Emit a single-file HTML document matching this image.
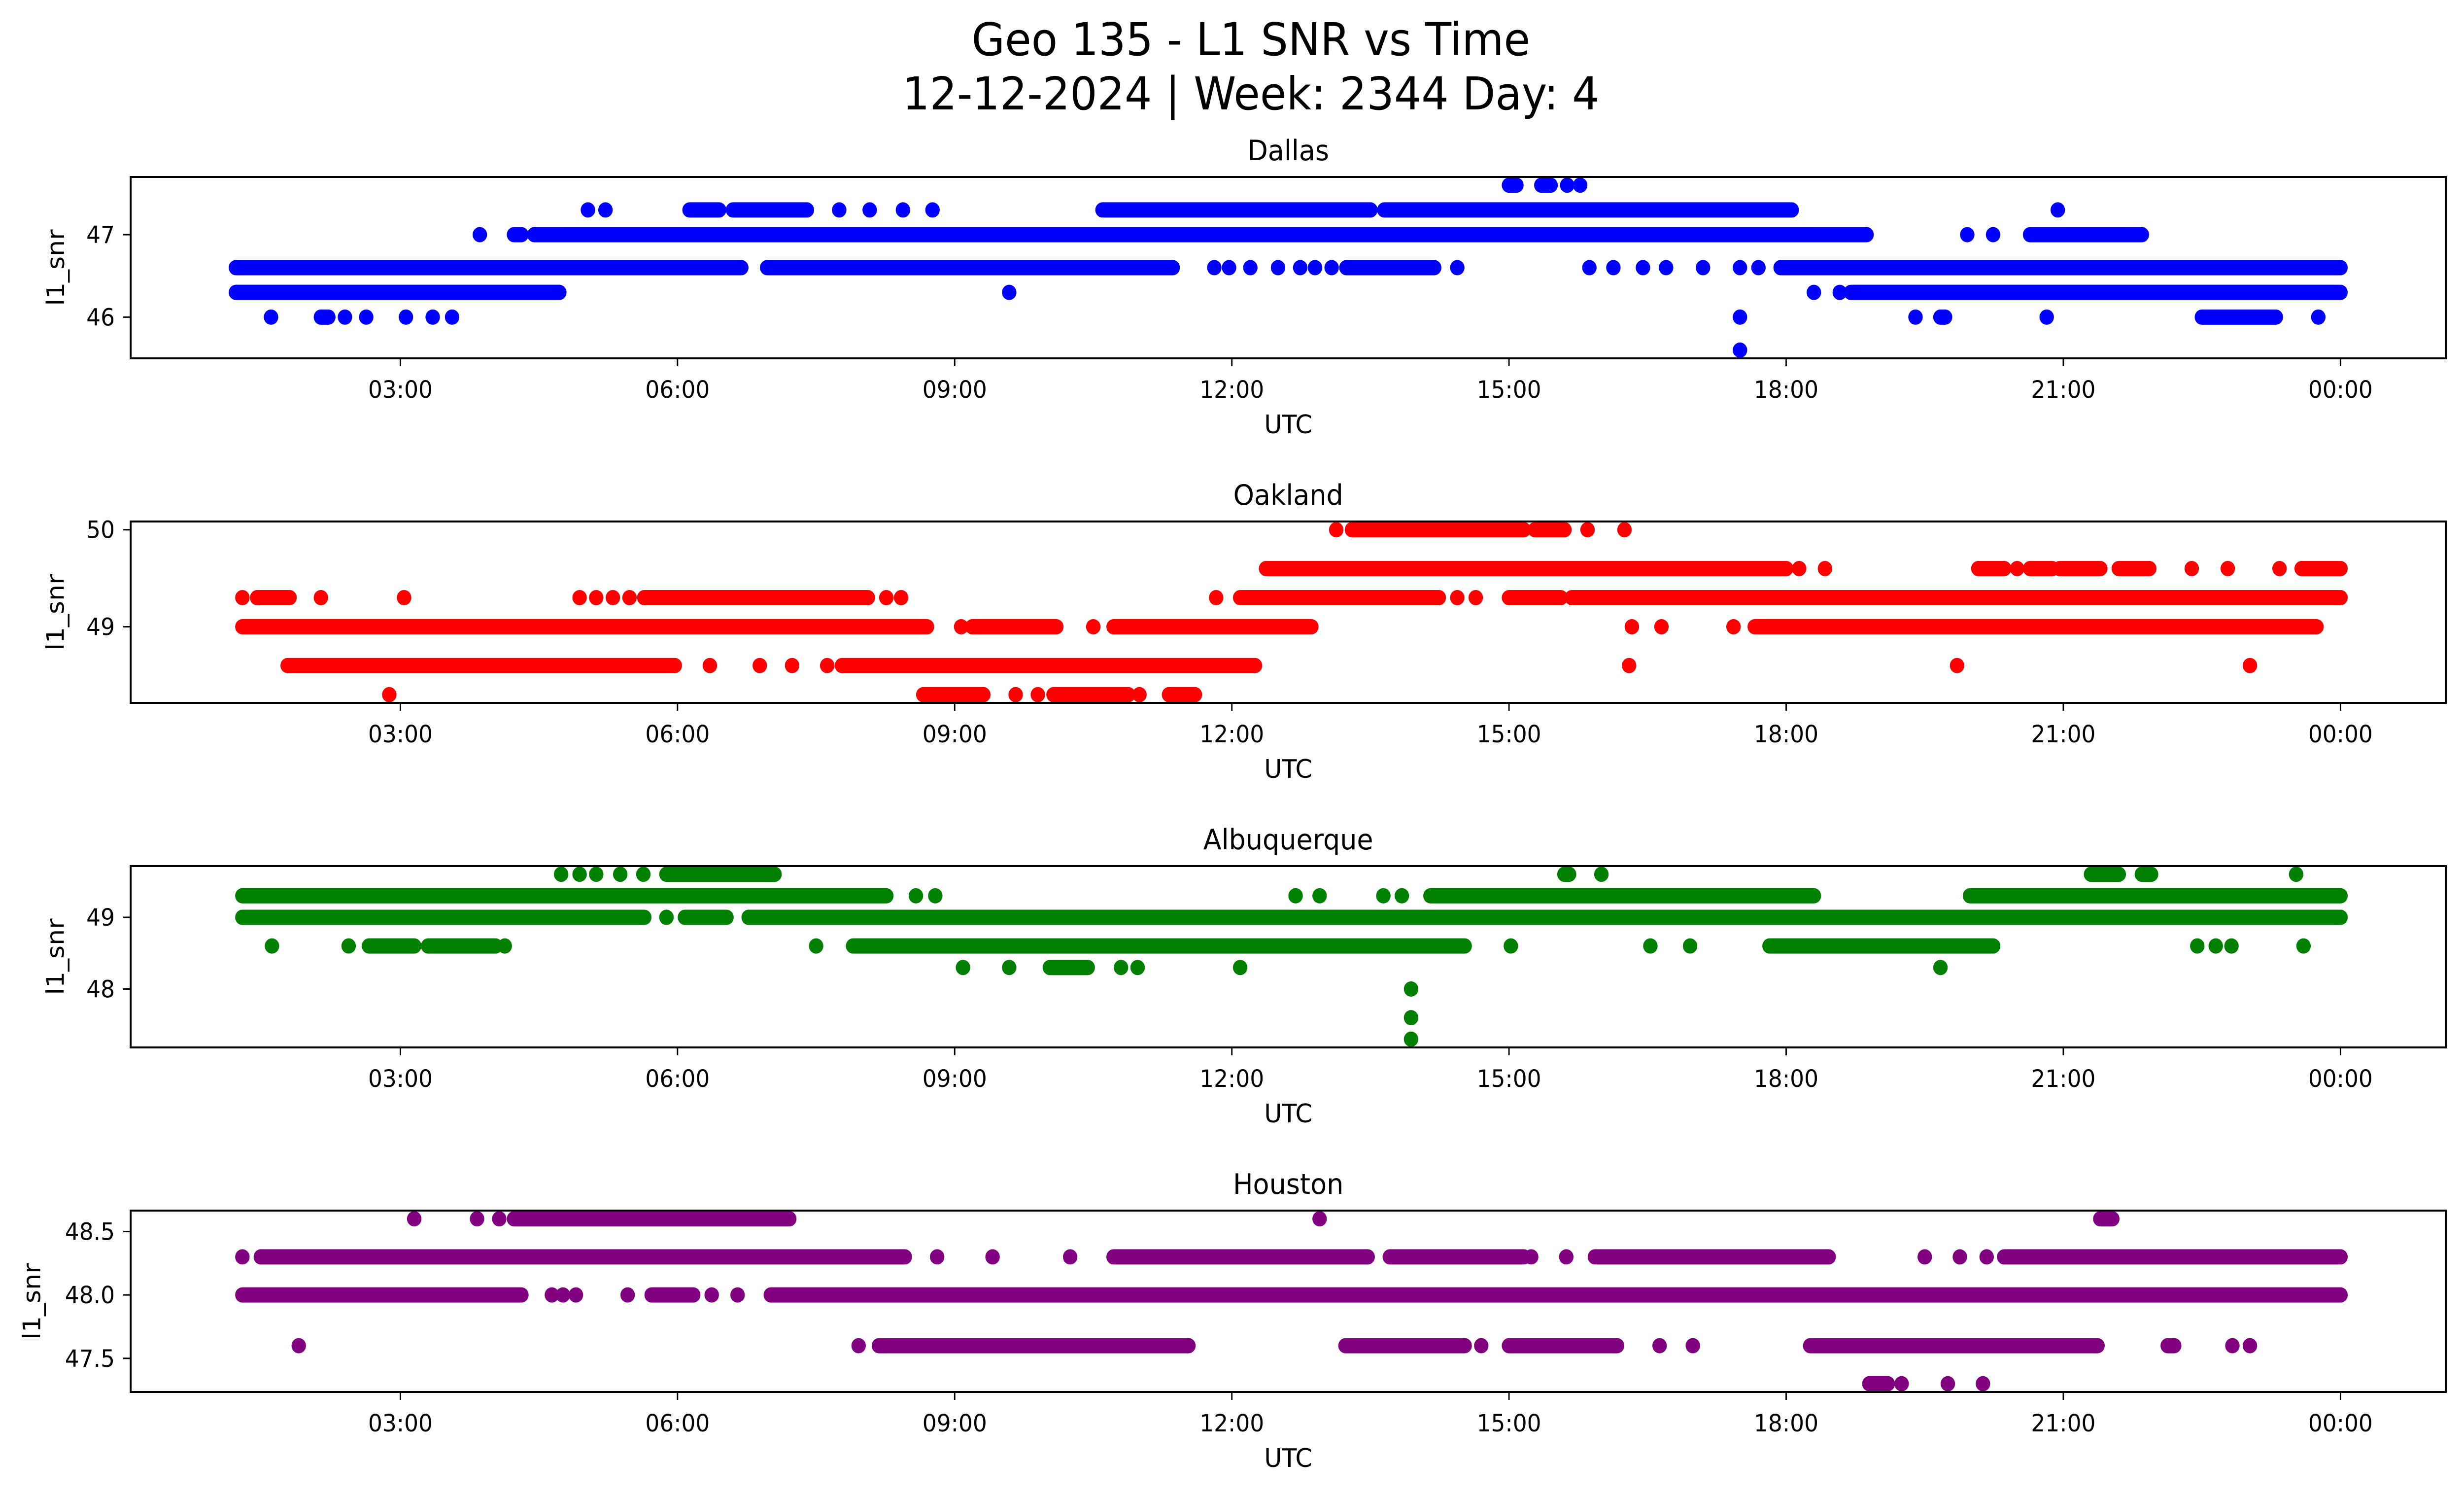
<!DOCTYPE html>
<html><head><meta charset="utf-8"><title>Geo 135 - L1 SNR vs Time</title>
<style>
html,body{margin:0;padding:0;background:#fff;width:100%;height:100%;overflow:hidden;}
svg{display:block;position:absolute;left:0;top:0;width:100vw;height:100vh;font-family:"DejaVu Sans","Liberation Sans",sans-serif;}
</style></head>
<body>
<svg id="fig" viewBox="0 0 5279 3033" preserveAspectRatio="none" xmlns="http://www.w3.org/2000/svg">
<rect x="0" y="0" width="5279" height="3033" fill="#fff"/>
<text x="2680" y="112" font-size="92" text-anchor="middle">Geo 135 - L1 SNR vs Time</text>
<text x="2680" y="222" font-size="92" text-anchor="middle">12-12-2024 | Week: 2344 Day: 4</text>
</svg>
<script>
// ---- shared x-axis data ----
const xTickHours = [3, 6, 9, 12, 15, 18, 21, 24];
const xTickLabels = ["03:00", "06:00", "09:00", "12:00", "15:00", "18:00", "21:00", "00:00"];

// ---- Dallas ----
const dallasLevels = [47.6, 47.3, 47.0, 46.6, 46.3, 46.0, 45.6];
const dallasRuns = [
  [[15.0,15.08],[15.35,15.45],[15.63,15.63],[15.77,15.77]],
  [[5.03,5.03],[5.22,5.22],[6.13,6.45],[6.6,7.4],[7.75,7.75],[8.08,8.08],[8.44,8.44],[8.76,8.76],[10.6,13.5],[13.65,18.06],[20.94,20.94]],
  [[3.86,3.86],[4.23,4.31],[4.45,18.87],[19.96,19.96],[20.24,20.24],[20.64,21.85]],
  [[1.22,6.69],[6.97,11.36],[11.81,11.81],[11.97,11.97],[12.2,12.2],[12.5,12.5],[12.74,12.74],[12.9,12.9],[13.08,13.08],[13.24,14.19],[14.44,14.44],[15.87,15.87],[16.13,16.13],[16.45,16.45],[16.7,16.7],[17.1,17.1],[17.5,17.5],[17.7,17.7],[17.94,24.0]],
  [[1.22,4.72],[9.59,9.59],[18.3,18.3],[18.58,18.58],[18.7,24.0]],
  [[1.6,1.6],[2.14,2.22],[2.4,2.4],[2.63,2.63],[3.06,3.06],[3.35,3.35],[3.56,3.56],[17.5,17.5],[19.4,19.4],[19.67,19.72],[20.82,20.82],[22.5,23.3],[23.76,23.76]],
  [[17.5,17.5]]
];
const dallasYTicks = [46, 47];
const dallasYTickLabels = ["46", "47"];

// ---- Oakland ----
const oaklandLevels = [50.0, 49.6, 49.3, 49.0, 48.6, 48.3];
const oaklandRuns = [
  [[13.13,13.13],[13.3,15.16],[15.28,15.6],[15.85,15.85],[16.25,16.25]],
  [[12.37,18.0],[18.14,18.14],[18.42,18.42],[20.08,20.36],[20.5,20.5],[20.64,20.88],[20.96,21.4],[21.6,21.93],[22.39,22.39],[22.78,22.78],[23.34,23.34],[23.58,24.0]],
  [[1.29,1.29],[1.45,1.8],[2.14,2.14],[3.04,3.04],[4.94,4.94],[5.12,5.12],[5.3,5.3],[5.48,5.48],[5.64,8.06],[8.26,8.26],[8.42,8.42],[11.83,11.83],[12.09,14.24],[14.44,14.44],[14.64,14.64],[15.0,15.56],[15.68,24.0]],
  [[1.29,8.7],[9.07,9.07],[9.19,10.1],[10.5,10.5],[10.72,12.86],[16.33,16.33],[16.65,16.65],[17.43,17.43],[17.66,23.74]],
  [[1.78,5.97],[6.35,6.35],[6.89,6.89],[7.24,7.24],[7.62,7.62],[7.78,12.25],[16.3,16.3],[19.85,19.85],[23.02,23.02]],
  [[2.88,2.88],[8.66,9.31],[9.66,9.66],[9.9,9.9],[10.07,10.88],[11.0,11.0],[11.32,11.6]]
];
const oaklandYTicks = [49, 50];
const oaklandYTickLabels = ["49", "50"];

// ---- Albuquerque ----
const albuquerqueLevels = [49.6, 49.3, 49.0, 48.6, 48.3, 48.0, 47.6, 47.3];
const albuquerqueRuns = [
  [[4.74,4.74],[4.94,4.94],[5.12,5.12],[5.38,5.38],[5.63,5.63],[5.88,7.05],[15.6,15.65],[16.0,16.0],[21.3,21.6],[21.85,21.95],[23.52,23.52]],
  [[1.29,8.26],[8.58,8.58],[8.79,8.79],[12.69,12.69],[12.95,12.95],[13.64,13.64],[13.84,13.84],[14.15,18.3],[19.99,24.0]],
  [[1.29,5.64],[5.88,5.88],[6.08,6.53],[6.77,24.0]],
  [[1.61,1.61],[2.44,2.44],[2.66,3.15],[3.3,4.03],[4.13,4.13],[7.5,7.5],[7.9,14.52],[15.02,15.02],[16.53,16.53],[16.96,16.96],[17.82,20.24],[22.45,22.45],[22.65,22.65],[22.82,22.82],[23.6,23.6]],
  [[9.09,9.09],[9.59,9.59],[10.03,10.44],[10.8,10.8],[10.98,10.98],[12.09,12.09],[19.67,19.67]],
  [[13.94,13.94]],
  [[13.94,13.94]],
  [[13.94,13.94]]
];
const albuquerqueYTicks = [48, 49];
const albuquerqueYTickLabels = ["48", "49"];

// ---- Houston ----
const houstonLevels = [48.6, 48.3, 48.0, 47.6, 47.3];
const houstonRuns = [
  [[3.15,3.15],[3.83,3.83],[4.07,4.07],[4.23,7.21],[12.95,12.95],[21.4,21.53]],
  [[1.29,1.29],[1.49,8.46],[8.81,8.81],[9.41,9.41],[10.25,10.25],[10.72,13.47],[13.71,15.16],[15.24,15.24],[15.62,15.62],[15.93,18.46],[19.5,19.5],[19.88,19.88],[20.17,20.17],[20.36,24.0]],
  [[1.29,4.31],[4.64,4.64],[4.76,4.76],[4.9,4.9],[5.46,5.46],[5.72,6.17],[6.37,6.37],[6.65,6.65],[7.01,24.0]],
  [[1.9,1.9],[7.96,7.96],[8.18,11.53],[13.23,14.52],[14.7,14.7],[15.0,16.17],[16.63,16.63],[16.99,16.99],[18.26,21.37],[22.13,22.2],[22.83,22.83],[23.02,23.02]],
  [[18.9,19.1],[19.25,19.25],[19.75,19.75],[20.13,20.13]]
];
const houstonYTicks = [47.5, 48.0, 48.5];
const houstonYTickLabels = ["47.5", "48.0", "48.5"];

// ---- layout ----
const NS = "http://www.w3.org/2000/svg";
const svg = document.getElementById("fig");
const PL = 280, PR = 5240, PH = 368;
const X0 = 0.081, X1 = 25.14;
function xScale(h){ return PL + (h - X0) / (X1 - X0) * (PR - PL); }
function mk(tag, attrs){
  const e = document.createElementNS(NS, tag);
  for (const k in attrs) e.setAttribute(k, attrs[k]);
  return e;
}

function drawPanel(key, title, color, top, levels, runs, yTicks, yTickLabels, yLabelX){
  const g = mk("g", {});
  
  
  svg.appendChild(g);
  const vmin = Math.min(...levels), vmax = Math.max(...levels);
  const pad = (vmax - vmin) * 0.05;
  const y0 = vmin - pad, y1 = vmax + pad;
  const yScale = v => top + PH - (v - y0) / (y1 - y0) * PH;
  const bottom = top + PH;

  const marks = mk("g", {fill: color, stroke: color});
  
  
  g.appendChild(marks);
  for (let i = 0; i < levels.length; i++){
    const yy = yScale(levels[i]);
    for (const r of runs[i]){
      const xa = xScale(r[0]), xb = xScale(r[1]);
      if (xb - xa < 2){
        const c = mk("circle", {cx: xa, cy: yy, r: 15.5, stroke: "none"});
        
        
        marks.appendChild(c);
      } else {
        const l = mk("line", {x1: xa, y1: yy, x2: xb, y2: yy, "stroke-width": 31, "stroke-linecap": "round"});
        
        
        marks.appendChild(l);
      }
    }
  }

  const frame = mk("rect", {x: PL, y: top, width: PR - PL, height: PH, fill: "none", stroke: "#000", "stroke-width": 4});
  
  
  g.appendChild(frame);

  for (let i = 0; i < xTickHours.length; i++){
    const xx = xScale(xTickHours[i]);
    const t = mk("line", {x1: xx, y1: bottom, x2: xx, y2: bottom + 16, stroke: "#000", "stroke-width": 3});
    
    
    g.appendChild(t);
    const lb = mk("text", {x: xx, y: bottom + 80, "font-size": 48, "text-anchor": "middle"});
    lb.textContent = xTickLabels[i];
    
    
    g.appendChild(lb);
  }
  for (let i = 0; i < yTicks.length; i++){
    const yy = yScale(yTicks[i]);
    const t = mk("line", {x1: PL - 16, y1: yy, x2: PL, y2: yy, stroke: "#000", "stroke-width": 3});
    
    
    g.appendChild(t);
    const lb = mk("text", {x: PL - 34, y: yy + 17, "font-size": 48, "text-anchor": "end"});
    lb.textContent = yTickLabels[i];
    
    
    g.appendChild(lb);
  }
  const tt = mk("text", {x: (PL + PR) / 2, y: top - 34, "font-size": 57, "text-anchor": "middle"});
  tt.textContent = title;
  
  
  g.appendChild(tt);
  const xl = mk("text", {x: (PL + PR) / 2, y: bottom + 152, "font-size": 52, "text-anchor": "middle"});
  xl.textContent = "UTC";
  
  
  g.appendChild(xl);
  const cy = top + PH / 2;
  const yl = mk("text", {x: yLabelX, y: cy, "font-size": 52, "text-anchor": "middle", transform: "rotate(-90 " + yLabelX + " " + cy + ")"});
  yl.textContent = "l1_snr";
  
  
  g.appendChild(yl);
}

drawPanel("dallas", "Dallas", "#0000ff", 359, dallasLevels, dallasRuns, dallasYTicks, dallasYTickLabels, 137);
drawPanel("oakland", "Oakland", "#ff0000", 1058, oaklandLevels, oaklandRuns, oaklandYTicks, oaklandYTickLabels, 137);
drawPanel("albuquerque", "Albuquerque", "#008000", 1757, albuquerqueLevels, albuquerqueRuns, albuquerqueYTicks, albuquerqueYTickLabels, 137);
drawPanel("houston", "Houston", "#800080", 2456, houstonLevels, houstonRuns, houstonYTicks, houstonYTickLabels, 86);
</script>
</body></html>
